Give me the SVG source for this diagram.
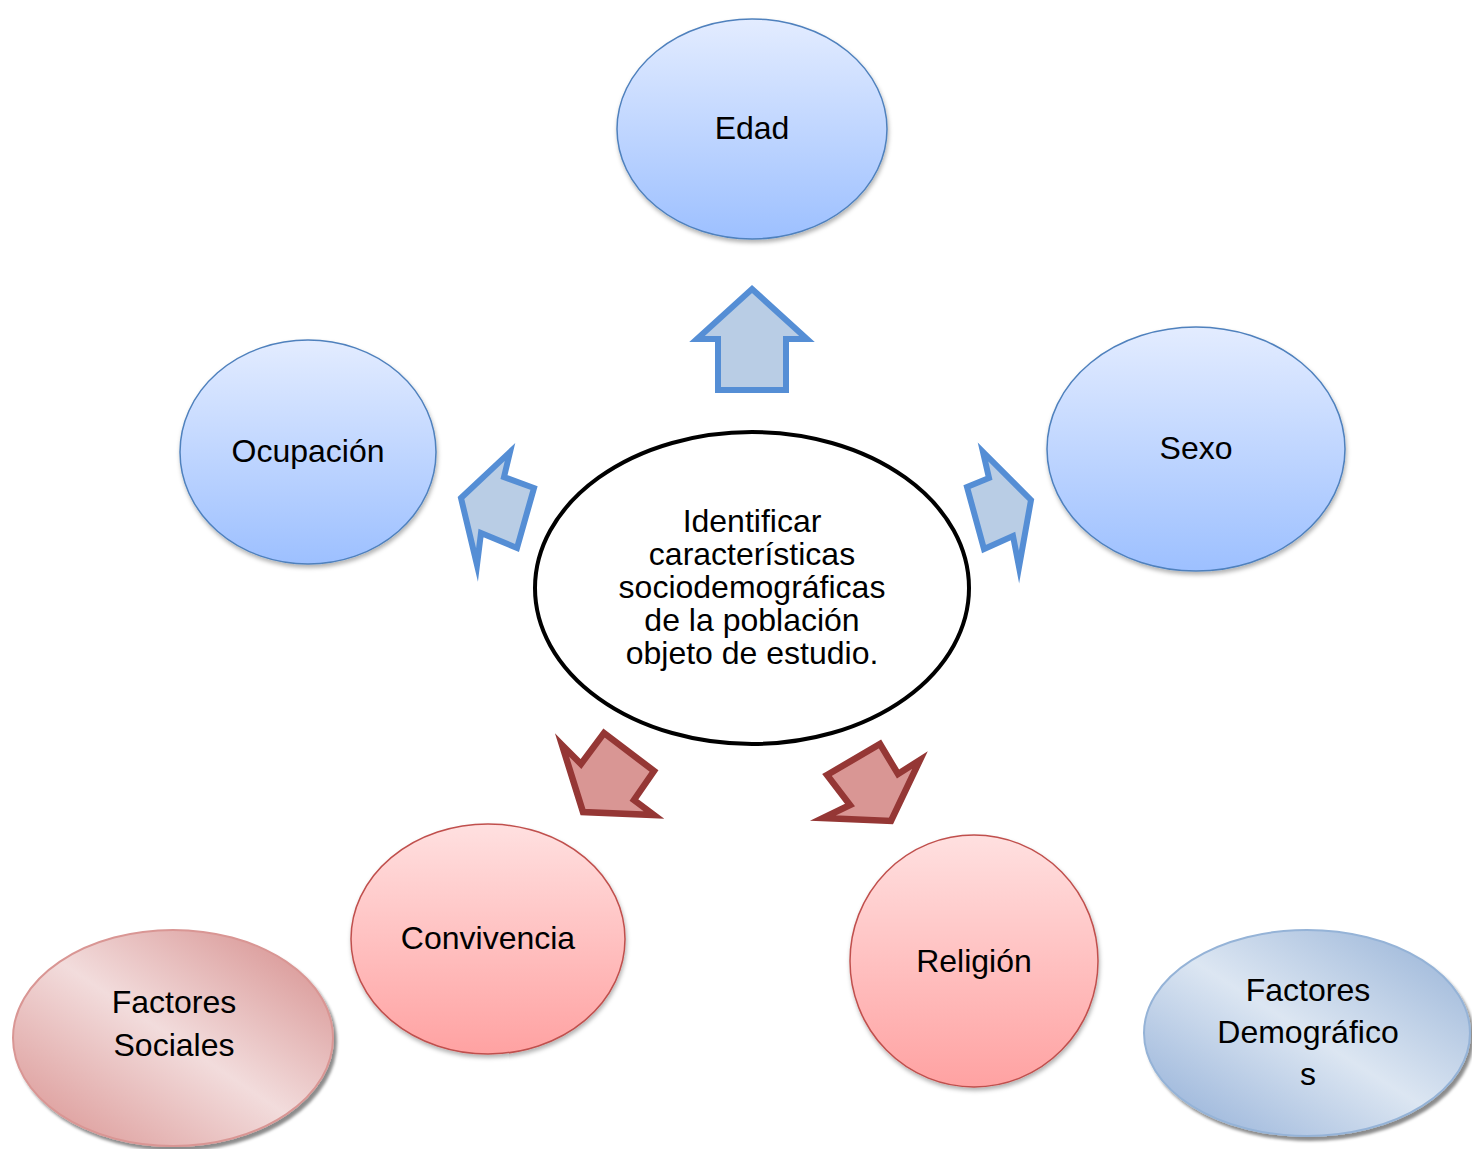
<svg xmlns="http://www.w3.org/2000/svg" width="1472" height="1149" viewBox="0 0 1472 1149">
<defs>
<linearGradient id="gBlue" x1="0" y1="0" x2="0" y2="1">
<stop offset="0" stop-color="#E3ECFF"/>
<stop offset="1" stop-color="#9DC0FF"/>
</linearGradient>
<linearGradient id="gRed" x1="0" y1="0" x2="0" y2="1">
<stop offset="0" stop-color="#FFE0E0"/>
<stop offset="1" stop-color="#FFA2A2"/>
</linearGradient>
<linearGradient id="gSoc" x1="0" y1="1" x2="1" y2="0">
<stop offset="0" stop-color="#D9908E"/>
<stop offset="0.5" stop-color="#F2DCDC"/>
<stop offset="0.85" stop-color="#DDA2A1"/>
<stop offset="1" stop-color="#E8C0C0"/>
</linearGradient>
<linearGradient id="gDem" x1="0" y1="1" x2="1" y2="0">
<stop offset="0" stop-color="#8EACD6"/>
<stop offset="0.5" stop-color="#DCE6F2"/>
<stop offset="0.85" stop-color="#A9C0DE"/>
<stop offset="1" stop-color="#C5D5EA"/>
</linearGradient>
<filter id="sh" x="-10%" y="-10%" width="125%" height="130%">
<feDropShadow dx="1" dy="3" stdDeviation="2" flood-color="#000" flood-opacity="0.3"/>
</filter>
<filter id="sh2" x="-10%" y="-10%" width="125%" height="130%">
<feDropShadow dx="3" dy="4" stdDeviation="1.5" flood-color="#000" flood-opacity="0.45"/>
</filter>
</defs>
<style>
text{font-family:"Liberation Sans",Arial,sans-serif;font-size:32px;fill:#000;text-anchor:middle}
.blue{fill:url(#gBlue);stroke:#4F81BD;stroke-width:1.5;filter:url(#sh)}
.red{fill:url(#gRed);stroke:#C0504D;stroke-width:1.5;filter:url(#sh)}
.ab{fill:#B9CDE5;stroke:#558ED5;stroke-width:6;stroke-linejoin:miter;stroke-miterlimit:10}
.ar{fill:#D99694;stroke:#953735;stroke-width:6.5;stroke-linejoin:miter;stroke-miterlimit:10}
</style>
<g id="connectors">
<polygon class="ab" points="752,289 807,339 786,339 786,390 718,390 718,339 697,339"/>
<polygon class="ab" points="461,498 510,452 504,477 534,488 517,548 481,533 477,565"/>
<polygon class="ab" points="1031,500 983,452 989,478 967,487 984,549 1013,536 1019,567"/>
<polygon class="ar" points="562,745 581,764 604,733 654,771 634,800 654,815 583,812"/>
<polygon class="ar" points="827,775 880,744 898,774 920,760 891,821 823,818 850,805"/>
</g>
<g id="center">
<ellipse cx="752" cy="588" rx="217" ry="156" fill="#fff" stroke="#000" stroke-width="4"/>
<text x="752" y="532">Identificar</text>
<text x="752" y="565">características</text>
<text x="752" y="598">sociodemográficas</text>
<text x="752" y="631">de la población</text>
<text x="752" y="664">objeto de estudio.</text>
</g>
<g id="edad">
<ellipse class="blue" cx="752" cy="129" rx="135" ry="110"/>
<text x="752" y="139">Edad</text>
</g>
<g id="sexo">
<ellipse class="blue" cx="1196" cy="449" rx="149" ry="122"/>
<text x="1196" y="459">Sexo</text>
</g>
<g id="ocupacion">
<ellipse class="blue" cx="308" cy="452" rx="128" ry="112"/>
<text x="308" y="462">Ocupación</text>
</g>
<g id="convivencia">
<ellipse class="red" cx="488" cy="939" rx="137" ry="115"/>
<text x="488" y="949">Convivencia</text>
</g>
<g id="religion">
<ellipse class="red" cx="974" cy="961" rx="124" ry="126"/>
<text x="974" y="972">Religión</text>
</g>
<g id="factores-sociales">
<ellipse cx="173" cy="1038" rx="160" ry="108" fill="url(#gSoc)" stroke="#D99694" stroke-width="2" filter="url(#sh2)"/>
<text x="174" y="1013">Factores</text>
<text x="174" y="1056">Sociales</text>
</g>
<g id="factores-demograficos">
<ellipse cx="1307" cy="1033" rx="163" ry="103" fill="url(#gDem)" stroke="#95B3D7" stroke-width="2" filter="url(#sh2)"/>
<text x="1308" y="1001">Factores</text>
<text x="1308" y="1043">Demográfico</text>
<text x="1308" y="1085">s</text>
</g>
</svg>
